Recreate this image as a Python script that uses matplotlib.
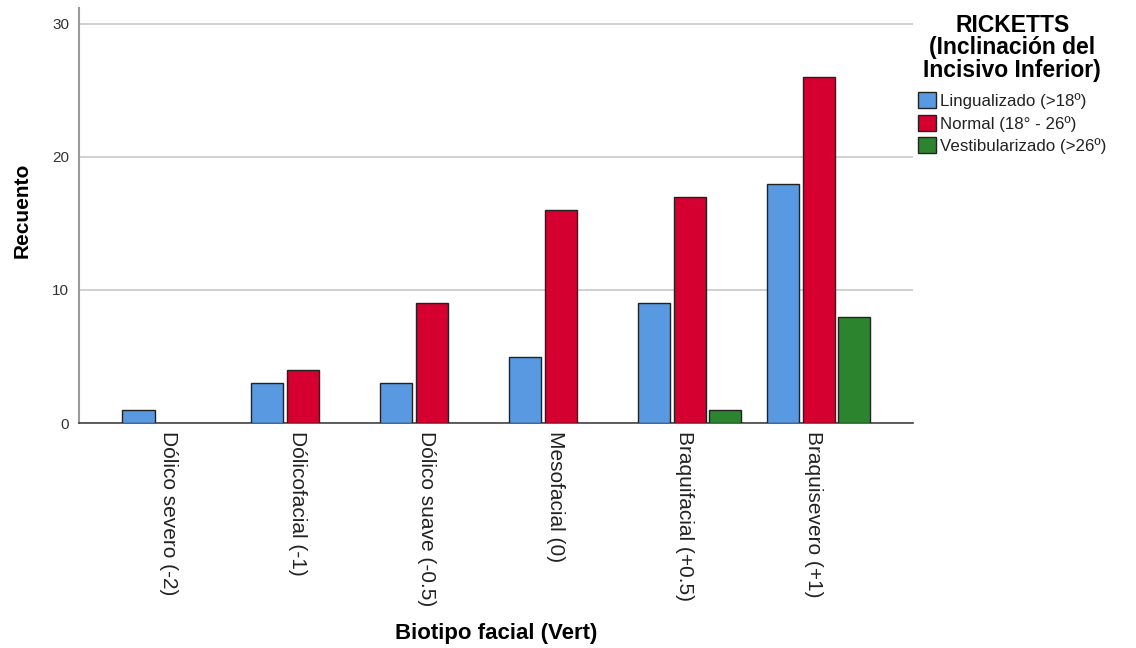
import matplotlib
matplotlib.use("Agg")
import matplotlib.pyplot as plt
import matplotlib.transforms as mtransforms
import numpy as np
from matplotlib.patches import Patch

categories = ["Dólico severo (-2)", "Dólicofacial (-1)", "Dólico suave (-0.5)",
              "Mesofacial (0)", "Braquifacial (+0.5)", "Braquisevero (+1)"]
series_names = ["Lingualizado (>18º)", "Normal (18° - 26º)", "Vestibularizado (>26º)"]
lingualizado = [1, 3, 3, 5, 9, 18]
normal = [0, 4, 9, 16, 17, 26]
vestibularizado = [0, 0, 0, 0, 1, 8]
colors = ["#5899E2", "#D5002F", "#2C852E"]

plt.rcParams['font.family'] = ['Liberation Sans', 'DejaVu Sans']

fig = plt.figure(figsize=(11.36, 6.48), dpi=100)
ax = fig.add_axes([0.0695, 0.3472, 0.734, 0.6405])

x = np.arange(len(categories))
offsets = [-0.275, 0.0, 0.275]
width = 0.25
for vals, off, col in zip([lingualizado, normal, vestibularizado], offsets, colors):
    for xi, v in zip(x, vals):
        if v > 0:
            ax.bar(xi + off, v, width=width, color=col, edgecolor="#222222", linewidth=1.0, zorder=3)

ax.set_xlim(-0.736, 5.73)
ax.set_ylim(0, 31.2)
ax.set_yticks([0, 10, 20, 30])
ax.tick_params(axis='y', length=0, labelsize=11, colors="#333333", pad=7)
ax.tick_params(axis='x', length=0, labelsize=15, colors="#222222", pad=6)
ax.set_xticks(x)
ax.set_xticklabels(categories, rotation=270, va='top', ha='center')
shift = mtransforms.ScaledTranslation(-5.5 / 100, 0, fig.dpi_scale_trans)
for lbl in ax.get_xticklabels():
    lbl.set_transform(lbl.get_transform() + shift)
ax.grid(axis='y', color="#C8C8C8", linewidth=1.2, zorder=0)
ax.set_axisbelow(True)
for s in ["top", "right"]:
    ax.spines[s].set_visible(False)
ax.spines["left"].set_color("#999999")
ax.spines["left"].set_linewidth(1.5)
ax.spines["bottom"].set_color("#444444")
ax.spines["bottom"].set_linewidth(1.2)

fig.text(22 / 1136, 1 - 210 / 648, "Recuento", rotation=90, fontsize=15, fontweight='bold',
         ha='center', va='center')
fig.text(496 / 1136, 1 - 634 / 648, "Biotipo facial (Vert)", fontsize=16, fontweight='bold',
         ha='center', va='center')

handles = [Patch(facecolor=c, edgecolor="#222222", linewidth=1.0) for c in colors]
leg = fig.legend(handles, series_names, loc='upper left', bbox_to_anchor=(918 / 1136, 1 - 14 / 648),
                 title="RICKETTS\n(Inclinación del\nIncisivo Inferior)", frameon=False,
                 fontsize=12.2, title_fontproperties={'weight': 'bold', 'size': 16.5},
                 handlelength=1.05, handleheight=1.05, handletextpad=0.25, labelspacing=0.35,
                 borderaxespad=0, borderpad=0)
leg._legend_box.align = "center"
leg._legend_box.sep = 7.5
leg.get_title().set_multialignment('center')
leg.get_title().set_linespacing(0.97)
for t in leg.get_texts():
    t.set_color("#222222")

fig.savefig("out.png", dpi=100)
